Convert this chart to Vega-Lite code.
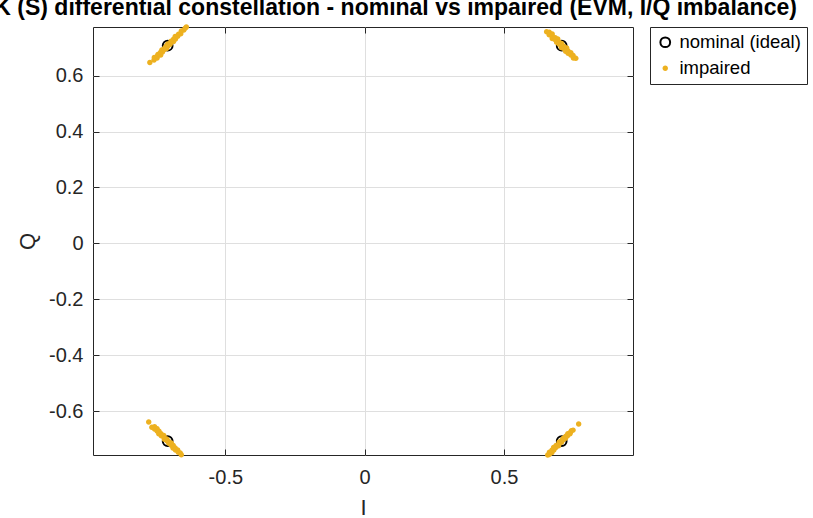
{
  "$schema": "https://vega.github.io/schema/vega-lite/v6.json",
  "autosize": "none",
  "width": 540,
  "height": 428,
  "padding": {"left": 93, "top": 27, "right": 180, "bottom": 63},
  "background": "white",
  "title": {
    "text": "DQPSK (S) differential constellation - nominal vs impaired (EVM, I/Q imbalance)",
    "font": "Liberation Sans",
    "fontSize": 23,
    "fontWeight": "bold",
    "color": "#000000",
    "anchor": "middle",
    "offset": 1
  },
  "data": {
    "values": [
      {"series": "nominal (ideal)", "I": -0.7071, "Q": 0.7071},
      {"series": "nominal (ideal)", "I": 0.7071, "Q": 0.7071},
      {"series": "nominal (ideal)", "I": -0.7071, "Q": -0.7071},
      {"series": "nominal (ideal)", "I": 0.7071, "Q": -0.7071},
      {"series": "impaired", "I": -0.771, "Q": 0.647},
      {"series": "impaired", "I": -0.756, "Q": 0.656},
      {"series": "impaired", "I": -0.755, "Q": 0.665},
      {"series": "impaired", "I": -0.745, "Q": 0.663},
      {"series": "impaired", "I": -0.744, "Q": 0.670},
      {"series": "impaired", "I": -0.742, "Q": 0.676},
      {"series": "impaired", "I": -0.732, "Q": 0.674},
      {"series": "impaired", "I": -0.733, "Q": 0.683},
      {"series": "impaired", "I": -0.726, "Q": 0.684},
      {"series": "impaired", "I": -0.728, "Q": 0.692},
      {"series": "impaired", "I": -0.720, "Q": 0.692},
      {"series": "impaired", "I": -0.719, "Q": 0.697},
      {"series": "impaired", "I": -0.711, "Q": 0.697},
      {"series": "impaired", "I": -0.713, "Q": 0.705},
      {"series": "impaired", "I": -0.706, "Q": 0.706},
      {"series": "impaired", "I": -0.707, "Q": 0.713},
      {"series": "impaired", "I": -0.698, "Q": 0.712},
      {"series": "impaired", "I": -0.697, "Q": 0.717},
      {"series": "impaired", "I": -0.695, "Q": 0.723},
      {"series": "impaired", "I": -0.686, "Q": 0.722},
      {"series": "impaired", "I": -0.686, "Q": 0.730},
      {"series": "impaired", "I": -0.679, "Q": 0.731},
      {"series": "impaired", "I": -0.680, "Q": 0.740},
      {"series": "impaired", "I": -0.671, "Q": 0.741},
      {"series": "impaired", "I": -0.668, "Q": 0.748},
      {"series": "impaired", "I": -0.660, "Q": 0.750},
      {"series": "impaired", "I": -0.658, "Q": 0.760},
      {"series": "impaired", "I": -0.649, "Q": 0.763},
      {"series": "impaired", "I": -0.644, "Q": 0.770},
      {"series": "impaired", "I": -0.640, "Q": 0.774},
      {"series": "impaired", "I": 0.653, "Q": 0.757},
      {"series": "impaired", "I": 0.663, "Q": 0.755},
      {"series": "impaired", "I": 0.662, "Q": 0.746},
      {"series": "impaired", "I": 0.673, "Q": 0.749},
      {"series": "impaired", "I": 0.673, "Q": 0.741},
      {"series": "impaired", "I": 0.673, "Q": 0.733},
      {"series": "impaired", "I": 0.684, "Q": 0.736},
      {"series": "impaired", "I": 0.684, "Q": 0.728},
      {"series": "impaired", "I": 0.693, "Q": 0.731},
      {"series": "impaired", "I": 0.689, "Q": 0.719},
      {"series": "impaired", "I": 0.698, "Q": 0.720},
      {"series": "impaired", "I": 0.697, "Q": 0.713},
      {"series": "impaired", "I": 0.707, "Q": 0.715},
      {"series": "impaired", "I": 0.706, "Q": 0.708},
      {"series": "impaired", "I": 0.706, "Q": 0.700},
      {"series": "impaired", "I": 0.716, "Q": 0.704},
      {"series": "impaired", "I": 0.716, "Q": 0.696},
      {"series": "impaired", "I": 0.725, "Q": 0.699},
      {"series": "impaired", "I": 0.721, "Q": 0.687},
      {"series": "impaired", "I": 0.730, "Q": 0.688},
      {"series": "impaired", "I": 0.730, "Q": 0.680},
      {"series": "impaired", "I": 0.740, "Q": 0.682},
      {"series": "impaired", "I": 0.740, "Q": 0.674},
      {"series": "impaired", "I": 0.748, "Q": 0.672},
      {"series": "impaired", "I": 0.749, "Q": 0.663},
      {"series": "impaired", "I": 0.758, "Q": 0.662},
      {"series": "impaired", "I": -0.775, "Q": -0.639},
      {"series": "impaired", "I": -0.764, "Q": -0.658},
      {"series": "impaired", "I": -0.754, "Q": -0.656},
      {"series": "impaired", "I": -0.754, "Q": -0.664},
      {"series": "impaired", "I": -0.745, "Q": -0.663},
      {"series": "impaired", "I": -0.745, "Q": -0.671},
      {"series": "impaired", "I": -0.738, "Q": -0.672},
      {"series": "impaired", "I": -0.739, "Q": -0.681},
      {"series": "impaired", "I": -0.731, "Q": -0.681},
      {"series": "impaired", "I": -0.730, "Q": -0.688},
      {"series": "impaired", "I": -0.721, "Q": -0.687},
      {"series": "impaired", "I": -0.720, "Q": -0.694},
      {"series": "impaired", "I": -0.719, "Q": -0.701},
      {"series": "impaired", "I": -0.710, "Q": -0.700},
      {"series": "impaired", "I": -0.710, "Q": -0.706},
      {"series": "impaired", "I": -0.704, "Q": -0.708},
      {"series": "impaired", "I": -0.703, "Q": -0.715},
      {"series": "impaired", "I": -0.694, "Q": -0.714},
      {"series": "impaired", "I": -0.694, "Q": -0.722},
      {"series": "impaired", "I": -0.687, "Q": -0.723},
      {"series": "impaired", "I": -0.688, "Q": -0.732},
      {"series": "impaired", "I": -0.680, "Q": -0.732},
      {"series": "impaired", "I": -0.679, "Q": -0.739},
      {"series": "impaired", "I": -0.671, "Q": -0.739},
      {"series": "impaired", "I": -0.669, "Q": -0.747},
      {"series": "impaired", "I": -0.662, "Q": -0.750},
      {"series": "impaired", "I": -0.658, "Q": -0.756},
      {"series": "impaired", "I": 0.657, "Q": -0.757},
      {"series": "impaired", "I": 0.663, "Q": -0.755},
      {"series": "impaired", "I": 0.663, "Q": -0.747},
      {"series": "impaired", "I": 0.672, "Q": -0.748},
      {"series": "impaired", "I": 0.672, "Q": -0.740},
      {"series": "impaired", "I": 0.679, "Q": -0.739},
      {"series": "impaired", "I": 0.678, "Q": -0.730},
      {"series": "impaired", "I": 0.686, "Q": -0.730},
      {"series": "impaired", "I": 0.687, "Q": -0.723},
      {"series": "impaired", "I": 0.696, "Q": -0.724},
      {"series": "impaired", "I": 0.697, "Q": -0.717},
      {"series": "impaired", "I": 0.698, "Q": -0.710},
      {"series": "impaired", "I": 0.706, "Q": -0.712},
      {"series": "impaired", "I": 0.707, "Q": -0.705},
      {"series": "impaired", "I": 0.712, "Q": -0.704},
      {"series": "impaired", "I": 0.713, "Q": -0.697},
      {"series": "impaired", "I": 0.721, "Q": -0.697},
      {"series": "impaired", "I": 0.722, "Q": -0.690},
      {"series": "impaired", "I": 0.728, "Q": -0.688},
      {"series": "impaired", "I": 0.729, "Q": -0.681},
      {"series": "impaired", "I": 0.737, "Q": -0.681},
      {"series": "impaired", "I": 0.739, "Q": -0.675},
      {"series": "impaired", "I": 0.742, "Q": -0.670},
      {"series": "impaired", "I": 0.748, "Q": -0.668},
      {"series": "impaired", "I": 0.768, "Q": -0.646}
    ]
  },
  "encoding": {
    "x": {
      "field": "I",
      "type": "quantitative",
      "scale": {"domain": [-0.975, 0.963], "nice": false, "zero": false}
    },
    "y": {
      "field": "Q",
      "type": "quantitative",
      "scale": {"domain": [-0.757, 0.774], "nice": false, "zero": false}
    },
    "fill": {
      "field": "series",
      "type": "nominal",
      "scale": {"domain": ["nominal (ideal)", "impaired"], "range": ["transparent", "#EDB120"]},
      "legend": {"title": null}
    },
    "stroke": {
      "field": "series",
      "type": "nominal",
      "scale": {"domain": ["nominal (ideal)", "impaired"], "range": ["#000000", "#EDB120"]},
      "legend": {"title": null}
    },
    "size": {
      "field": "series",
      "type": "nominal",
      "scale": {"domain": ["nominal (ideal)", "impaired"], "range": [95, 12]},
      "legend": {"title": null}
    }
  },
  "layer": [
    {
      "transform": [{"filter": "datum.series == 'nominal (ideal)'"}],
      "mark": {"type": "point", "shape": "circle", "strokeWidth": 2, "opacity": 1},
      "encoding": {
        "x": {
          "field": "I",
          "type": "quantitative",
          "axis": {
            "orient": "bottom",
            "title": "I",
            "values": [-0.5, 0, 0.5],
            "labelExpr": "replace(format(datum.value, '~g'), '\u2212', '-')",
            "labelPadding": 18,
            "titlePadding": 10,
            "grid": true
          }
        },
        "y": {
          "field": "Q",
          "type": "quantitative",
          "axis": {
            "orient": "left",
            "title": "Q",
            "values": [-0.6, -0.4, -0.2, 0, 0.2, 0.4, 0.6],
            "labelExpr": "replace(format(datum.value, '~g'), '\u2212', '-')",
            "labelPadding": 16,
            "titleX": -66,
            "titleY": 214,
            "titleBaseline": "middle",
            "titleAlign": "center",
            "grid": true
          }
        }
      }
    },
    {
      "transform": [{"filter": "datum.series == 'impaired'"}],
      "mark": {"type": "point", "shape": "circle", "strokeWidth": 2, "opacity": 1},
      "encoding": {
        "x": {
          "field": "I",
          "type": "quantitative",
          "axis": {
            "orient": "top",
            "title": null,
            "values": [-0.5, 0, 0.5],
            "labels": false,
            "grid": false
          }
        },
        "y": {
          "field": "Q",
          "type": "quantitative",
          "axis": {
            "orient": "right",
            "title": null,
            "values": [-0.6, -0.4, -0.2, 0, 0.2, 0.4, 0.6],
            "labels": false,
            "grid": false
          }
        }
      }
    }
  ],
  "config": {
    "font": "Liberation Sans",
    "view": {"stroke": "#262626", "strokeWidth": 1},
    "axis": {
      "domain": false,
      "ticks": true,
      "tickSize": -6,
      "tickColor": "#262626",
      "tickWidth": 1,
      "gridColor": "#DFDFDF",
      "gridWidth": 1,
      "labelFont": "Liberation Sans",
      "labelFontSize": 20,
      "labelColor": "#262626",
      "titleFont": "Liberation Sans",
      "titleFontSize": 22,
      "titleFontWeight": "normal",
      "titleColor": "#262626"
    },
    "legend": {
      "orient": "none",
      "legendX": 557,
      "legendY": 0,
      "strokeColor": "#262626",
      "fillColor": "white",
      "padding": 6,
      "rowPadding": 7,
      "labelFont": "Liberation Sans",
      "labelFontSize": 18.5,
      "labelColor": "#000000",
      "labelOffset": 5,
      "symbolOffset": 0,
      "symbolStrokeWidth": 2
    }
  }
}
